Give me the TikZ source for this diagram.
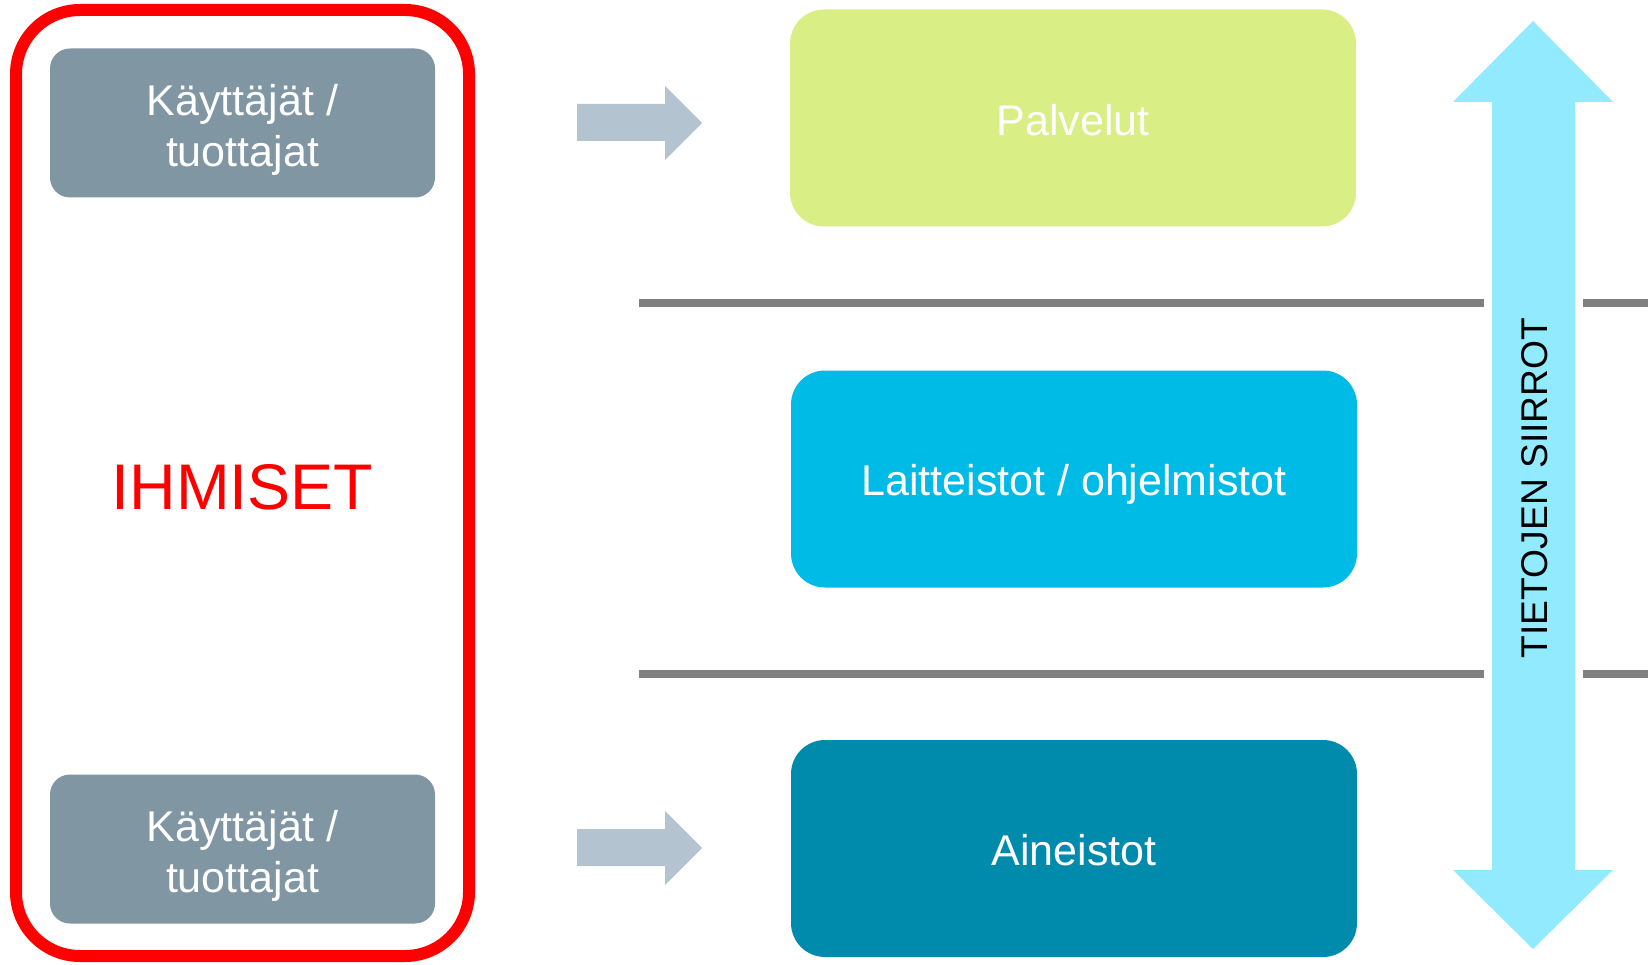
\documentclass[tikz,border=0pt]{standalone}
\usepackage{fontspec}
\setmainfont{Liberation Sans}
\definecolor{usergray}{HTML}{8096A2}
\definecolor{palv}{HTML}{D9EE85}
\definecolor{lait}{HTML}{00BBE6}
\definecolor{aine}{HTML}{008BAD}
\definecolor{arrgray}{HTML}{B4C3D0}
\definecolor{dblue}{HTML}{91EAFE}
\definecolor{linegray}{HTML}{808080}
\begin{document}
\begin{tikzpicture}[x=1pt,y=-1pt,
  userbox/.style={rectangle, rounded corners=20pt, fill=usergray,
    minimum width=385pt, minimum height=149pt, inner sep=0pt},
  layerbox/.style={rectangle, rounded corners=34pt,
    minimum width=566pt, minimum height=217pt, inner sep=0pt},
  boxtext/.style={text=white, align=center, inner sep=0pt,
    font=\fontsize{43}{51}\selectfont},
  blockarrow/.style={fill=arrgray, draw=none},
  sepline/.style={draw=linegray, line width=8pt}]
\useasboundingbox (0,0) rectangle (1648,965);
% separator lines
\draw[sepline] (639,303) -- (1484,303);
\draw[sepline] (1583,303) -- (1648,303);
\draw[sepline] (639,674) -- (1484,674);
\draw[sepline] (1583,674) -- (1648,674);
% red people frame
\draw[red, line width=12pt, rounded corners=64pt] (16,10) rectangle (469,956);
\node[text=red, font=\fontsize{64.5}{70}\selectfont] (ihmiset) at (242.5,487) {IHMISET};
% user boxes
\node[userbox] (user1) at (242.5,123) {};
\node[boxtext] (user1t) at ([yshift=-6.5pt]user1.center) {Käyttäjät /\\tuottajat};
\node[userbox] (user2) at (242.5,849) {};
\node[boxtext] (user2t) at ([yshift=-6.5pt]user2.center) {Käyttäjät /\\tuottajat};
% layer boxes
\node[layerbox, fill=palv] (palvelut) at (1073,118) {};
\node[boxtext] (palvelutt) at ([yshift=-2.5pt]palvelut.center) {Palvelut};
\node[layerbox, fill=lait] (laitteistot) at (1074,479) {};
\node[boxtext] (laitteistott) at ([yshift=-5pt]laitteistot.center) {Laitteistot / ohjelmistot};
\node[layerbox, fill=aine] (aineistot) at (1074,848.5) {};
\node[boxtext] (aineistott) at ([yshift=-1.5pt]aineistot.center) {Aineistot};
% block arrows
\fill[blockarrow] (577,104) -- (665,104) -- (665,86) -- (702,123) -- (665,160) -- (665,141) -- (577,141) -- cycle;
\fill[blockarrow] (577,829) -- (665,829) -- (665,811) -- (702,848) -- (665,885) -- (665,866) -- (577,866) -- cycle;
% double arrow
\fill[dblue] (1533,21) -- (1613,102) -- (1575,102) -- (1575,870) -- (1613,870) -- (1533,949)
  -- (1453,870) -- (1492,870) -- (1492,102) -- (1453,102) -- cycle;
\node[rotate=90, font=\fontsize{37.2}{40}\selectfont] (siirrot) at (1535,488) {TIETOJEN SIIRROT};
\end{tikzpicture}
\end{document}
